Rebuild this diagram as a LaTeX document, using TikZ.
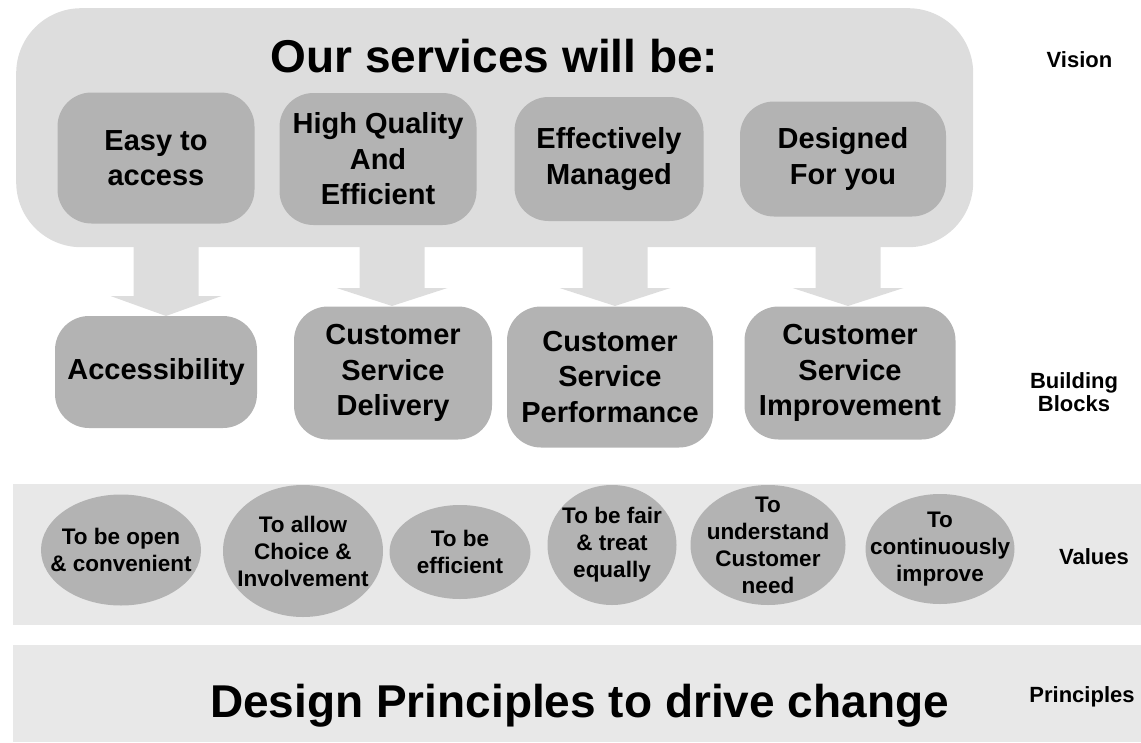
\documentclass[tikz,border=0pt]{standalone}
\usepackage{fontspec}
\setmainfont{Liberation Sans}
\usetikzlibrary{shapes.geometric}
\definecolor{lightbox}{RGB}{221,221,221}
\definecolor{darkbox}{RGB}{179,179,179}
\definecolor{band}{RGB}{232,232,232}
\begin{document}
\begin{tikzpicture}[x=1pt,y=-1pt,
  rbox/.style={fill=darkbox, rounded corners=34pt, align=center, inner sep=0pt,
    font=\fontsize{29}{35.5}\selectfont\bfseries},
  valshape/.style={ellipse, fill=darkbox, inner sep=0pt},
  valtext/.style={align=center, inner sep=0pt, font=\fontsize{22.5}{27}\selectfont\bfseries},
  side/.style={align=center, inner sep=0pt, font=\fontsize{22}{23.5}\selectfont\bfseries},
  bigtext/.style={inner sep=0pt, font=\fontsize{46}{55}\selectfont\bfseries},
  arrowfill/.style={fill=lightbox}]
\useasboundingbox (0,0) rectangle (1141,742);

% bands
\node[fill=band, anchor=north west, minimum width=1128pt, minimum height=141pt, inner sep=0pt] (valband) at (13,484) {};
\node[fill=band, anchor=north west, minimum width=1128pt, minimum height=97pt, inner sep=0pt] (prband) at (13,645) {};

% block arrows
\coordinate (t1) at (166,316);
\coordinate (t2) at (392,306);
\coordinate (t3) at (615,306);
\coordinate (t4) at (848,306);
\fill[arrowfill] (t1) -- ++(-55.5,-20) -- ++(23,0) -- ++(0,-60) -- ++(65,0) -- ++(0,60) -- ++(23,0) -- cycle;
\foreach \t in {t2,t3,t4}{
  \fill[arrowfill] (\t) -- ++(-55.5,-18) -- ++(23,0) -- ++(0,-60) -- ++(65,0) -- ++(0,60) -- ++(23,0) -- cycle;
}

% vision box
\node[fill=lightbox, rounded corners=65pt, anchor=north west, minimum width=957pt, minimum height=239pt, inner sep=0pt] (vision) at (16,8) {};
\node[bigtext, anchor=base] (title) at (494.5,72) {Our services will be:};

\node[rbox, minimum width=197pt, minimum height=131pt] (easy) at (156,158) {Easy to\\access};
\node[rbox, minimum width=197pt, minimum height=132pt] (hq) at (378,159) {High Quality\\And\\Efficient};
\node[rbox, minimum width=189pt, minimum height=124pt] (em) at (609,159) {Effectively\\Managed};
\node[rbox, minimum width=206pt, minimum height=115pt] (df) at (843,159) {Designed\\For you};

% building blocks
\node[rbox, minimum width=202pt, minimum height=112pt] (acc) at (156,372) {Accessibility};
\node[rbox, minimum width=198pt, minimum height=133pt] (csd) at (393,373) {Customer\\Service\\Delivery};
\node[rbox, minimum width=206pt, minimum height=141pt] (csp) at (610,377) {Customer\\Service\\Performance};
\node[rbox, minimum width=211pt, minimum height=133pt] (csi) at (850,373) {Customer\\Service\\Improvement};

% values
\node[valshape, minimum width=160pt, minimum height=111pt] (v1) at (121,550) {};
\node[valshape, minimum width=160pt, minimum height=132pt] (v2) at (303,551) {};
\node[valshape, minimum width=141pt, minimum height=94pt] (v3) at (460,552) {};
\node[valshape, minimum width=129pt, minimum height=120pt] (v4) at (612,545) {};
\node[valshape, minimum width=155pt, minimum height=120pt] (v5) at (768,545) {};
\node[valshape, minimum width=149pt, minimum height=110pt] (v6) at (940,549) {};
\node[valtext] at (v1) {To be open\\\& convenient};
\node[valtext] at (v2) {To allow\\Choice \&\\Involvement};
\node[valtext] at (v3) {To be\\efficient};
\node[valtext] at (v4) {To be fair\\\& treat\\equally};
\node[valtext] at (v5) {To\\understand\\Customer\\need};
\node[valtext] at (v6) {To\\continuously\\improve};

% principles
\node[bigtext, anchor=base] (design) at (579.5,717) {Design Principles to drive change};

% side labels
\node[side, anchor=base] (lvision) at (1079.5,67) {Vision};
\node[side] (lbb) at (1074,392) {Building\\Blocks};
\node[side, anchor=base] (lvalues) at (1094,564) {Values};
\node[side, anchor=base] (lprin) at (1082,702) {Principles};
\end{tikzpicture}
\end{document}
